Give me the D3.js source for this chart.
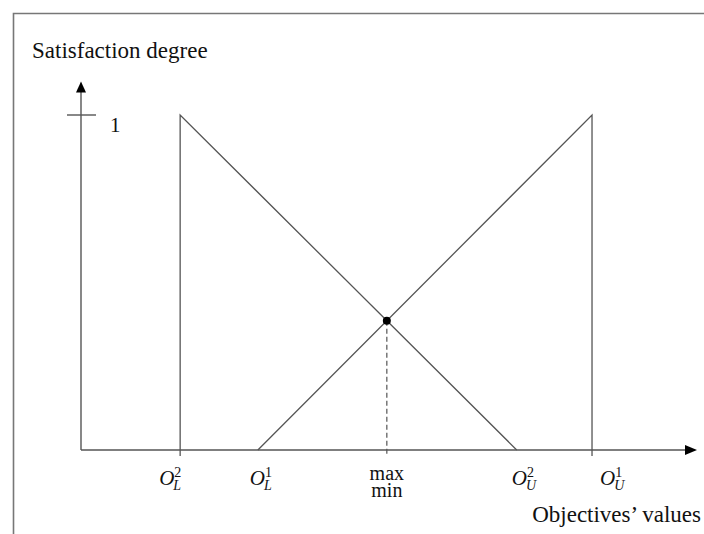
<!DOCTYPE html>
<html>
<head>
<meta charset="utf-8">
<script src="https://cdn.jsdelivr.net/npm/d3@7"></script>
<style>
  html, body { margin: 0; padding: 0; background: #fff; }
  svg { display: block; }
  text { font-family: "Liberation Serif", "Times New Roman", serif; fill: #111; }
</style>
</head>
<body>
<svg id="chart" width="704" height="534"></svg>
<script>
// Breakpoints on the objective axis (abstract units)
const breakpointNames = ["OL2", "OL1", "OU2", "OU1"];
const breakpointValues = [1.62, 2.89, 7.12, 8.35];

// Satisfaction levels
const yTickValues = [1];
const yTickLabels = ["1"];

// Membership functions as polylines: [objective value, satisfaction]
const objective1 = [[2.89, 0], [8.35, 1], [8.35, 0]];   // rises from O_L^1 to O_U^1
const objective2 = [[1.62, 0], [1.62, 1], [7.12, 0]];   // falls from O_L^2 to O_U^2

// Axis extents
const xAxisMax = 10.0;
const yAxisMax = 1.1;

const svg = d3.select("#chart");

const x = d3.scaleLinear().domain([0, xAxisMax]).range([81, 693]);
const y = d3.scaleLinear().domain([0, 1]).range([450, 115]);

const axisColor = "#555";

// Horizontal placement of each breakpoint label relative to its position
const labelShift = { OL2: -21, OL1: -8, OU2: -5, OU1: 8 };

// Frame
svg.append("path")
  .attr("d", "M13.5,534 L13.5,13.5 L704,13.5")
  .attr("fill", "none").attr("stroke", "#777").attr("stroke-width", 1.6);

// Axis titles
svg.append("text").attr("x", 32).attr("y", 58)
  .attr("font-size", 23).text("Satisfaction degree");
svg.append("text").attr("x", 701).attr("y", 522).attr("text-anchor", "end")
  .attr("font-size", 23).text("Objectives\u2019 values");

// Axes
const x0 = x(0), y0 = y(0);
const xEnd = x(xAxisMax), yEnd = y(yAxisMax);
svg.append("line").attr("x1", x0).attr("y1", y0).attr("x2", xEnd).attr("y2", y0)
  .attr("stroke", axisColor).attr("stroke-width", 1.4);
svg.append("line").attr("x1", x0).attr("y1", y0).attr("x2", x0).attr("y2", yEnd + 4)
  .attr("stroke", axisColor).attr("stroke-width", 1.4);

// Arrowheads
svg.append("path")
  .attr("d", `M${xEnd + 4},${y0} L${xEnd - 8},${y0 - 5} L${xEnd - 8},${y0 + 5} Z`)
  .attr("fill", "#000");
svg.append("path")
  .attr("d", `M${x0},${yEnd} L${x0 - 5},${yEnd + 11} L${x0 + 5},${yEnd + 11} Z`)
  .attr("fill", "#000");

// Y tick at full satisfaction
yTickValues.forEach((v, i) => {
  svg.append("line").attr("x1", x0 - 14).attr("x2", x0 + 15)
    .attr("y1", y(v)).attr("y2", y(v))
    .attr("stroke", axisColor).attr("stroke-width", 1.4);
  svg.append("text").attr("x", x0 + 29).attr("y", y(v) + 17)
    .attr("font-size", 21).text(yTickLabels[i]);
});

// Membership function lines
const line = d3.line().x(d => x(d[0])).y(d => y(d[1]));
[objective1, objective2].forEach(pts => {
  svg.append("path").attr("d", line(pts))
    .attr("fill", "none").attr("stroke", axisColor).attr("stroke-width", 1.3);
});

// Small ticks below the axis where the vertical edges meet it
[objective2[0][0], objective1[2][0]].forEach(v => {
  svg.append("line").attr("x1", x(v)).attr("x2", x(v))
    .attr("y1", y0).attr("y2", y0 + 6)
    .attr("stroke", axisColor).attr("stroke-width", 1.3);
});

// Intersection of the two sloped segments (max-min point)
function intersect(a1, a2, b1, b2) {
  const ma = (a2[1] - a1[1]) / (a2[0] - a1[0]);
  const mb = (b2[1] - b1[1]) / (b2[0] - b1[0]);
  const xi = (b1[1] - a1[1] + ma * a1[0] - mb * b1[0]) / (ma - mb);
  return [xi, a1[1] + ma * (xi - a1[0])];
}
const cross = intersect(objective1[0], objective1[1], objective2[1], objective2[2]);

svg.append("line").attr("x1", x(cross[0])).attr("x2", x(cross[0]))
  .attr("y1", y(cross[1])).attr("y2", y0 + 4)
  .attr("stroke", axisColor).attr("stroke-width", 1.2)
  .attr("stroke-dasharray", "5,3");
svg.append("circle").attr("cx", x(cross[0])).attr("cy", y(cross[1]))
  .attr("r", 4).attr("fill", "#000");

// X tick labels: O with superscript 1/2 stacked over subscript L/U
const labelParts = {
  OL2: ["L", "2"], OL1: ["L", "1"], OU2: ["U", "2"], OU1: ["U", "1"]
};
breakpointNames.forEach((name, i) => {
  const [sub, sup] = labelParts[name];
  const t = svg.append("text")
    .attr("x", x(breakpointValues[i]) + labelShift[name])
    .attr("y", 485);
  t.append("tspan").attr("font-size", 21).attr("font-style", "italic").text("O");
  t.append("tspan").attr("font-size", 14).attr("dy", -8).text(sup);
  t.append("tspan").attr("font-size", 14).attr("font-style", "italic")
    .attr("dx", -8).attr("dy", 13).text(sub);
});

const mm = svg.append("text").attr("text-anchor", "middle").attr("font-size", 20);
mm.append("tspan").attr("x", x(cross[0])).attr("y", 480).text("max");
mm.append("tspan").attr("x", x(cross[0])).attr("y", 497).text("min");
</script>
</body>
</html>
